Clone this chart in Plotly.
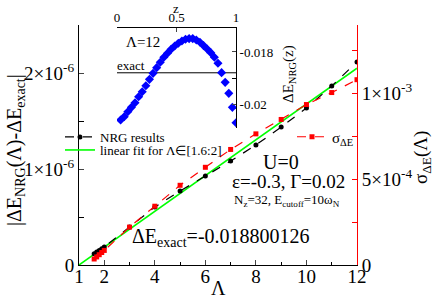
import plotly.graph_objects as go

# ---- data ----
lam_nrg = [1.6, 1.7, 1.8, 1.9, 2.0, 3, 4, 5, 6, 7, 8, 9, 10, 11, 12]
dE_nrg = [0.118e-6, 0.135e-6, 0.152e-6, 0.170e-6, 0.188e-6, 0.396e-6, 0.604e-6,
          0.771e-6, 0.927e-6, 1.083e-6, 1.25e-6, 1.4375e-6, 1.635e-6, 1.865e-6, 2.115e-6]
sigma_dE = [0.035e-3, 0.047e-3, 0.060e-3, 0.073e-3, 0.085e-3, 0.221e-3, 0.343e-3,
            0.465e-3, 0.570e-3, 0.674e-3, 0.765e-3, 0.849e-3, 0.936e-3, 1.006e-3, 1.081e-3]
lam_fit = [1, 12]
dE_fit = [0.0, 2.05e-6]

z_vals = [i / 33 for i in range(1, 34)]
dE_z = [-0.020615, -0.020487, -0.020295, -0.020128, -0.019949, -0.019718, -0.019526,
        -0.019295, -0.019051, -0.018821, -0.018603, -0.018397, -0.018205, -0.018051,
        -0.017897, -0.017769, -0.017665, -0.017577, -0.017513, -0.017487, -0.017487,
        -0.017538, -0.017626, -0.017756, -0.017885, -0.018026, -0.018205, -0.018436,
        -0.018795, -0.019167, -0.019590, -0.020128, -0.020718]
dE_exact = -0.018800126
z_exact = [0, 1]

x_ticks = [1, 2, 4, 6, 8, 10, 12]
x_minor = [3, 5, 7, 9, 11]
yl_ticks = [0, 1e-6, 2e-6]
yl_text = ["0", "1×10<sup>-6</sup>", "2×10<sup>-6</sup>"]
yl_minor = [0.5e-6, 1.5e-6]
yr_ticks = [0, 5e-4, 1e-3]
yr_text = ["0", "5×10<sup>-4</sup>", "1×10<sup>-3</sup>"]
yr_minor = [2.5e-4, 7.5e-4, 1.25e-3]
zi_ticks = [0, 0.5, 1]
ei_ticks = [-0.018, -0.02]
ei_text = ["-0.018", "-0.02"]
ei_minor = [-0.019]

FONT = "Liberation Serif"

fig = go.Figure()

fig.add_trace(go.Scatter(
    x=lam_fit, y=dE_fit, mode="lines", name="linear fit for Λ∈[1.6:2]",
    line=dict(color="#00ff00", width=1.6), xaxis="x", yaxis="y", legend="legend2"))
fig.add_trace(go.Scatter(
    x=lam_nrg, y=dE_nrg, mode="lines+markers", name="NRG results",
    line=dict(color="black", width=1.2, dash="dash"),
    marker=dict(color="black", size=5, symbol="circle"),
    xaxis="x", yaxis="y", legend="legend"))
fig.add_trace(go.Scatter(
    x=lam_nrg, y=sigma_dE, mode="lines+markers", name="σ<sub>ΔE</sub>",
    line=dict(color="red", width=1.2, dash="dash"),
    marker=dict(color="red", size=5, symbol="square"),
    xaxis="x", yaxis="y2", legend="legend3"))

# inset
fig.add_trace(go.Scatter(
    x=z_exact, y=[dE_exact, dE_exact], mode="lines", showlegend=False,
    line=dict(color="black", width=1), xaxis="x3", yaxis="y3"))
fig.add_trace(go.Scatter(
    x=z_vals, y=dE_z, mode="markers", showlegend=False,
    marker=dict(color="#0000ff", size=7, symbol="diamond"),
    xaxis="x3", yaxis="y3"))

W, H = 436, 299
L, R, T, B = 79, 79, 25, 34


def px(x):
    return (x - L) / (W - L - R)


def py(y):
    return (H - B - y) / (H - T - B)


fig.update_layout(
    width=W, height=H,
    margin=dict(l=L, r=R, t=T, b=B),
    paper_bgcolor="white", plot_bgcolor="white",
    font=dict(family=FONT, size=19, color="black"),
    xaxis=dict(range=[1, 12], tickvals=x_ticks, ticks="inside", ticklen=5,
               showline=True, linecolor="black", linewidth=1, showgrid=False,
               zeroline=False, tickfont=dict(size=19), automargin=False,
               ticklabelstandoff=-6,
               minor=dict(tickvals=x_minor, ticks="inside", ticklen=3, tickcolor="black")),
    yaxis=dict(range=[0, 2.5e-6], tickvals=yl_ticks, ticktext=yl_text,
               ticks="inside", ticklen=5, showline=True, linecolor="black",
               linewidth=1, showgrid=False, zeroline=False, tickfont=dict(size=19),
               automargin=False,
               minor=dict(tickvals=yl_minor, ticks="inside", ticklen=5, tickcolor="black")),
    yaxis2=dict(range=[0, 1.4e-3], overlaying="y", side="right", anchor="x",
                tickvals=yr_ticks, ticktext=yr_text, ticks="inside", ticklen=5,
                tickcolor="red", showline=True, linecolor="red", linewidth=1,
                showgrid=False, zeroline=False, tickfont=dict(size=19),
                automargin=False,
                minor=dict(tickvals=yr_minor, ticks="inside", ticklen=5, tickcolor="red")),
    xaxis3=dict(domain=[px(117), px(236)], anchor="y3", side="top", range=[0, 1],
                tickvals=zi_ticks, ticks="inside", ticklen=4, showline=True,
                linecolor="black", linewidth=1, showgrid=False, zeroline=False,
                tickfont=dict(size=13), automargin=False),
    yaxis3=dict(domain=[py(128), py(28)], anchor="x3", side="right",
                range=[-0.02092, -0.01708], tickvals=ei_ticks, ticktext=ei_text,
                ticks="inside", ticklen=4, showline=True, linecolor="black",
                linewidth=1, showgrid=False, zeroline=False, tickfont=dict(size=13),
                automargin=False,
                minor=dict(tickvals=ei_minor, ticks="inside", ticklen=4, tickcolor="black")),
    legend=dict(x=px(60), y=py(137), xanchor="left", yanchor="middle",
                bgcolor="rgba(0,0,0,0)", font=dict(size=13), itemwidth=30,
                borderwidth=0),
    legend2=dict(x=px(60), y=py(150), xanchor="left", yanchor="middle",
                 bgcolor="rgba(0,0,0,0)", font=dict(size=13), itemwidth=30,
                 borderwidth=0),
    legend3=dict(x=px(292), y=py(137), xanchor="left", yanchor="middle",
                 bgcolor="rgba(0,0,0,0)", font=dict(size=15), itemwidth=30,
                 borderwidth=0),
)

annots = [
    ("U=0", 281, 162, 20, 0),
    ("ε=-0.3, Γ=0.02", 288, 181, 19, 0),
    ("N<sub>z</sub>=32, E<sub>cutoff</sub>=10ω<sub>N</sub>", 287, 200, 13, 0),
    ("ΔE<sub>exact</sub>=-0.018800126", 221, 237, 20, 0),
    ("Λ=12", 143, 42, 15, 0),
    ("exact", 131, 66, 13, 0),
    ("Λ", 218, 288, 20, 0),
    ("z", 176, 8, 13, 0),
    ("|ΔE<sub>NRG</sub>(Λ)-ΔE<sub>exact</sub>|", 15, 150, 20, -90),
    ("σ<sub>ΔE</sub>(Λ)", 422, 158, 19, -90),
    ("ΔE<sub>NRG</sub>(z)", 289, 74, 15, -90),
]
for text, ax_, ay_, fs, ang in annots:
    fig.add_annotation(text=text, x=px(ax_), y=py(ay_), xref="paper", yref="paper",
                       showarrow=False, xanchor="center", yanchor="middle",
                       textangle=ang,
                       font=dict(family=FONT, size=fs, color="black"))

fig.write_html("out.html", config={"displayModeBar": False},
               post_script="document.body.style.margin='0';")
